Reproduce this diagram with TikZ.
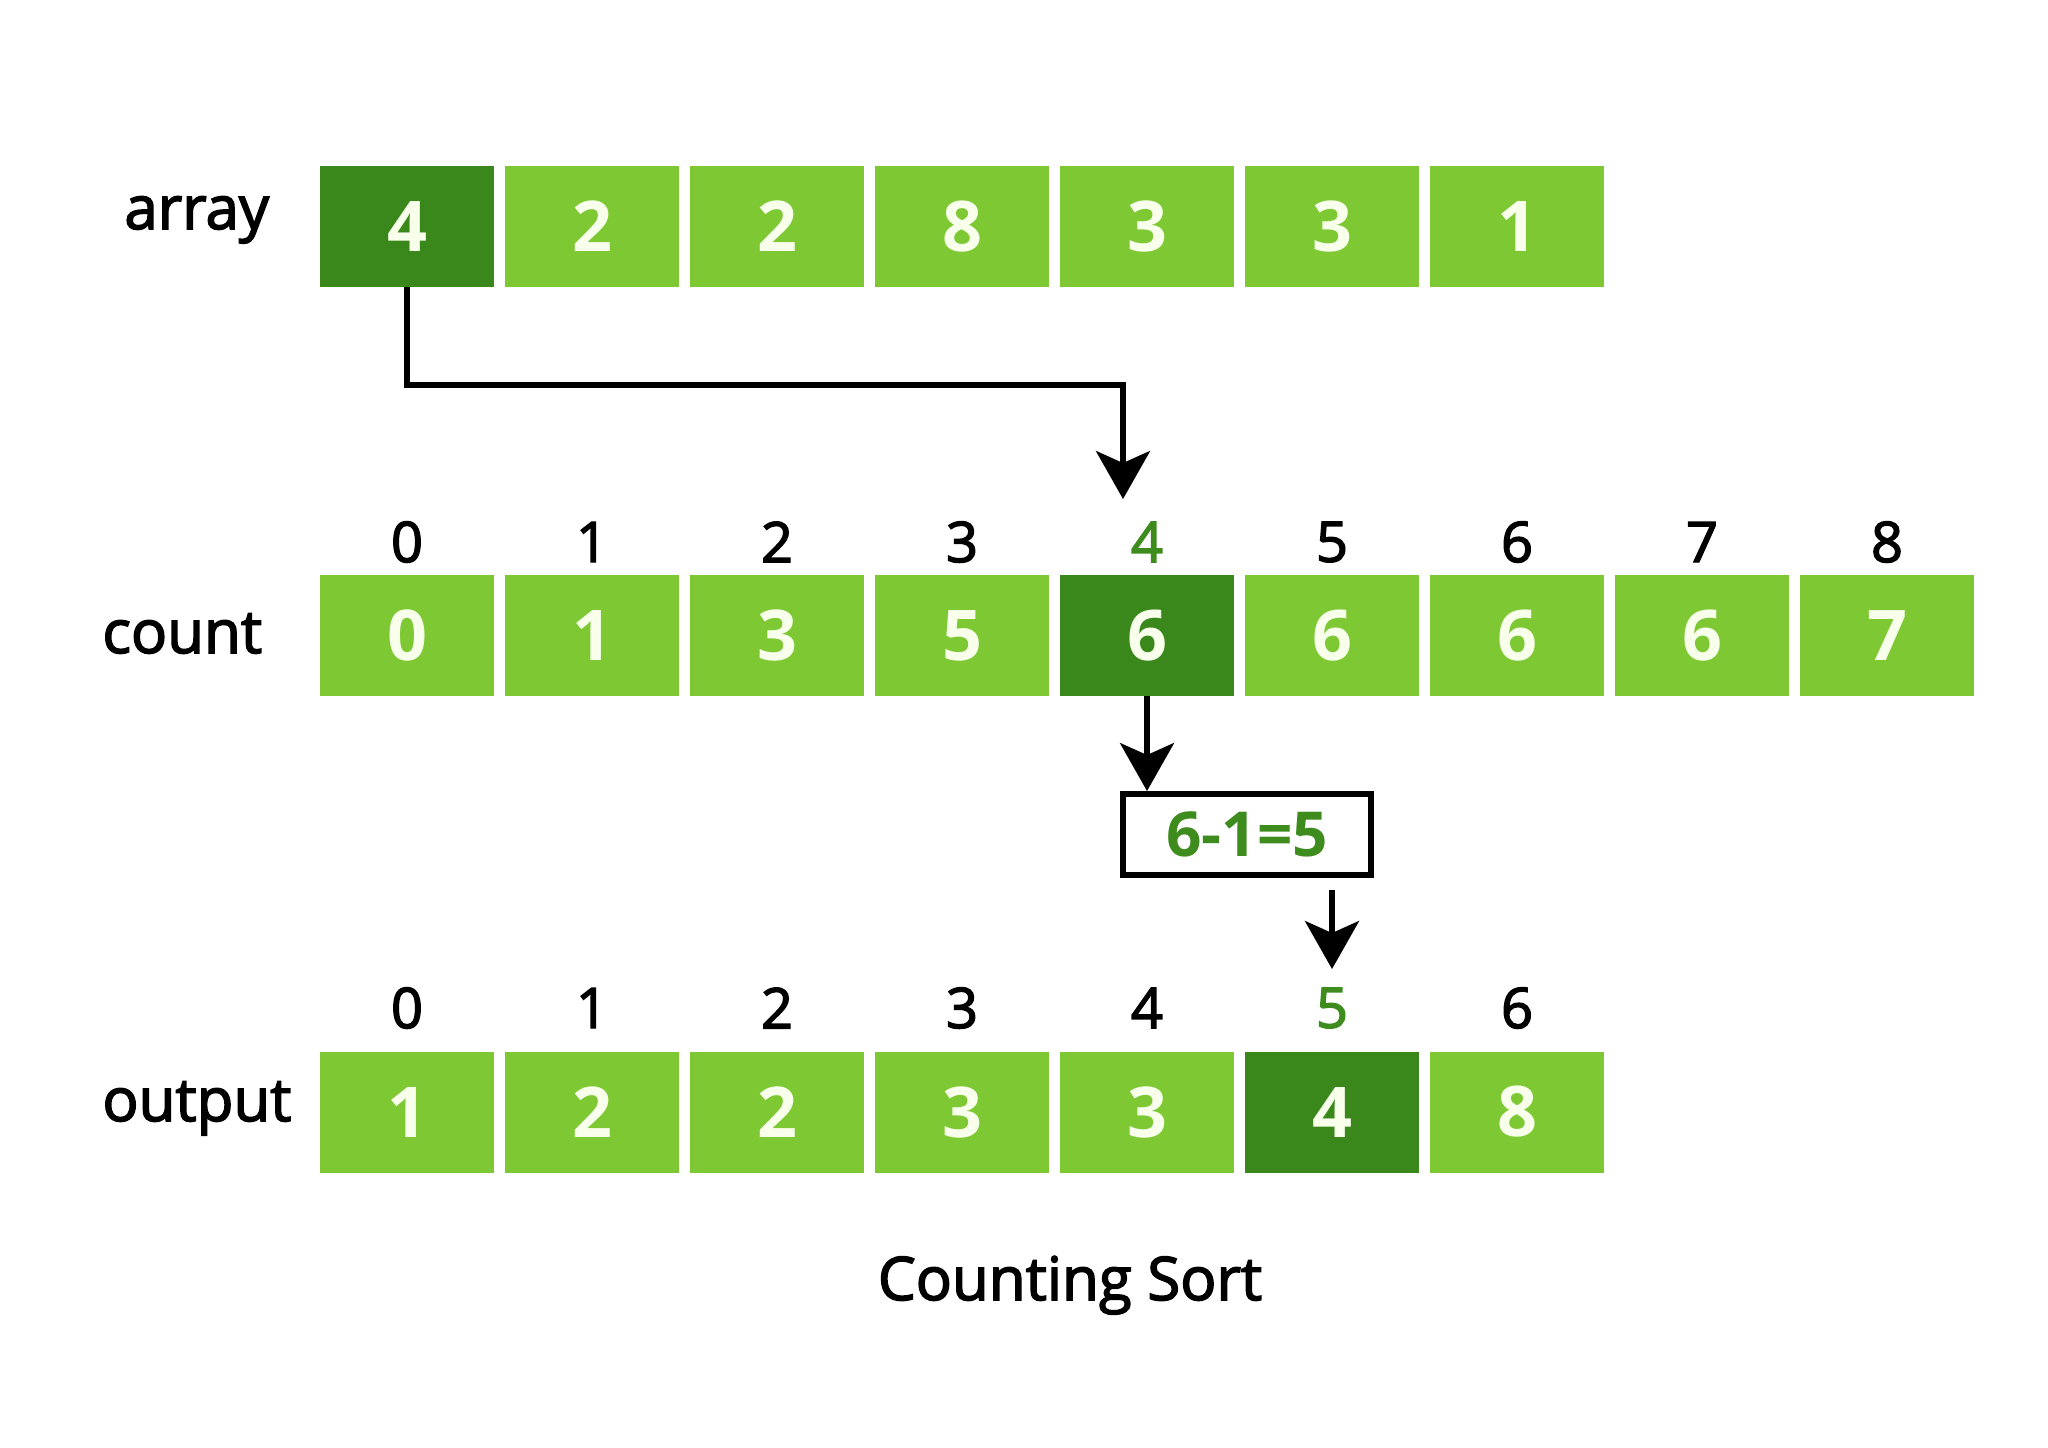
\documentclass[tikz,border=0pt]{standalone}
\usepackage{fontspec}
\setmainfont{Open Sans}
\newfontfamily\semib[FakeBold=2.5]{Open Sans}
\usetikzlibrary{arrows.meta,calc}
\definecolor{lg}{RGB}{126,200,52}
\definecolor{dg}{RGB}{58,135,27}
\definecolor{gt}{RGB}{62,140,30}
\definecolor{cw}{RGB}{248,255,235}
\begin{document}
\begin{tikzpicture}[x=0.5pt,y=-0.5pt,
  cell/.style={fill=lg,draw=none,minimum width=87pt,minimum height=60.5pt,inner sep=0pt,outer sep=0pt,
    text=cw,font=\bfseries\fontsize{35}{35}\selectfont},
  dcell/.style={cell,fill=dg},
  idx/.style={inner sep=0pt,font=\semib\fontsize{28}{28}\selectfont},
  rowlabel/.style={inner sep=0pt,anchor=base west,font=\semib\fontsize{30}{30}\selectfont},
  calcbox/.style={draw=black,line width=3pt,fill=white,minimum width=124pt,minimum height=40.5pt,
    inner sep=0pt,text=gt,font=\bfseries\fontsize{31}{31}\selectfont},
  arr/.style={line width=2.6pt,-{Stealth[length=24pt,width=27pt,inset=6pt]}}]
\useasboundingbox[fill=white] (0,0) rectangle (2048,1447);

% row labels
\node[rowlabel] (larray) at (124,229) {array};
\node[rowlabel] (lcount) at (102,653) {count};
\node[rowlabel] (loutput) at (102,1121) {output};

% array row
\foreach \v/\s [count=\i from 0] in {4/dcell,2/cell,2/cell,8/cell,3/cell,3/cell,1/cell}
  \node[\s] (a\i) at ({407+185*\i},226.5) {\v};

% count row
\foreach \v/\s [count=\i from 0] in {0/cell,1/cell,3/cell,5/cell,6/dcell,6/cell,6/cell,6/cell,7/cell}
  \node[\s] (c\i) at ({407+185*\i},635.5) {\v};
\foreach \i/\cl in {0/black,1/black,2/black,3/black,4/gt,5/black,6/black,7/black,8/black}
  \node[idx,text=\cl] (ci\i) at ({407+185*\i},542) {\i};

% output row
\foreach \v/\s [count=\i from 0] in {1/cell,2/cell,2/cell,3/cell,3/cell,4/dcell,8/cell}
  \node[\s] (o\i) at ({407+185*\i},1112) {\v};
\foreach \i/\cl in {0/black,1/black,2/black,3/black,4/black,5/gt,6/black}
  \node[idx,text=\cl] (oi\i) at ({407+185*\i},1008) {\i};

% calculation box
\node[calcbox] (box) at (1247,834.5) {6-1=5};

% arrows
\coordinate (t1) at (1123,499);
\draw[arr] (a0.south) -- ++(0,98) -| (t1);
\draw[arr] (c4.south) -- (c4.south |- box.north);
\coordinate (t3) at (1332,969);
\draw[arr] ($(box.south -| t3)+(0,12)$) -- (t3);

% caption
\node[inner sep=0pt,anchor=base,font=\semib\fontsize{30}{30}\selectfont] (title) at (1070,1300) {Counting Sort};
\end{tikzpicture}
\end{document}
